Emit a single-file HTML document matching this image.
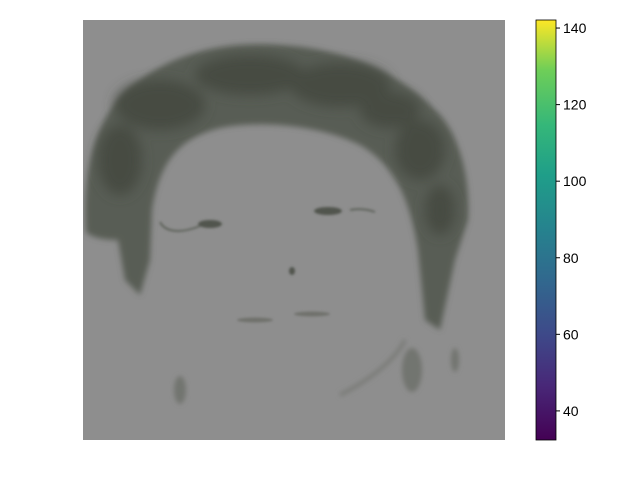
<!DOCTYPE html>
<html><head><meta charset="utf-8"><style>
body{margin:0;background:#fff;}
svg{display:block;font-family:"Liberation Sans",sans-serif;}
</style></head><body>
<svg width="640" height="480" viewBox="0 0 640 480">
<defs>
<filter id="b6"><feGaussianBlur stdDeviation="6"/></filter>
<filter id="b3"><feGaussianBlur stdDeviation="3"/></filter>
<filter id="b1"><feGaussianBlur stdDeviation="1.2"/></filter>
<filter id="b2"><feGaussianBlur stdDeviation="2.5"/></filter>
<linearGradient id="vir" x1="0" y1="1" x2="0" y2="0">
<stop offset="0" stop-color="#440154"/><stop offset="0.13" stop-color="#482878"/>
<stop offset="0.25" stop-color="#3e4989"/><stop offset="0.38" stop-color="#31688e"/>
<stop offset="0.5" stop-color="#26828e"/><stop offset="0.63" stop-color="#1f9e89"/>
<stop offset="0.75" stop-color="#35b779"/><stop offset="0.88" stop-color="#6ece58"/>
<stop offset="1" stop-color="#fde725"/></linearGradient>
<clipPath id="imgclip"><rect x="83" y="20" width="422" height="420"/></clipPath>
</defs>
<g clip-path="url(#imgclip)">
<rect x="83" y="20" width="422" height="420" fill="#8e8e8e"/>
<path filter="url(#b3)" fill="#585d54" d="M86,232 C82,170 95,110 140,80 C180,50 230,42 280,45 C340,48 400,70 440,115 C465,145 470,190 468,220 L455,260 L440,330 L425,320 L418,250 C410,200 395,165 360,145 C320,125 260,120 220,128 C180,138 160,160 152,210 L150,260 L140,295 L125,280 L118,240 C105,240 92,238 86,232 Z"/>
<g filter="url(#b6)" fill="#464c42">
<ellipse cx="160" cy="105" rx="45" ry="25"/><ellipse cx="250" cy="75" rx="55" ry="20"/>
<ellipse cx="340" cy="85" rx="50" ry="22"/><ellipse cx="420" cy="150" rx="25" ry="30"/>
<ellipse cx="120" cy="160" rx="22" ry="35"/><ellipse cx="440" cy="210" rx="15" ry="25"/>
<ellipse cx="390" cy="110" rx="30" ry="18"/>
</g>
<g filter="url(#b1)" fill="#51554e">
<ellipse cx="210" cy="224" rx="12" ry="4"/><ellipse cx="328" cy="211" rx="14" ry="4"/>
<ellipse cx="292" cy="271" rx="3" ry="4"/><ellipse cx="255" cy="320" rx="18" ry="2.5" fill="#6f716c"/>
<ellipse cx="312" cy="314" rx="18" ry="2.5" fill="#6f716c"/>
<path d="M160,222 C165,232 180,234 200,226" stroke="#5f635c" stroke-width="2" fill="none"/>
<path d="M350,210 C360,208 370,210 375,212" stroke="#5f635c" stroke-width="2" fill="none"/>
</g>
<g filter="url(#b2)" fill="#72746f">
<ellipse cx="180" cy="390" rx="6" ry="14"/>
<ellipse cx="412" cy="370" rx="10" ry="22"/><ellipse cx="455" cy="360" rx="4" ry="12"/>
<path d="M340,395 C370,380 395,360 405,340" stroke="#7a7c78" stroke-width="4" fill="none"/>
</g>
</g>
<rect x="536" y="20" width="20" height="420" fill="url(#vir)" stroke="#000" stroke-width="0.8"/>
<g id="ticks" font-size="14" fill="#000"></g>
<script>
const tickValues=[40,60,80,100,120,140];
const cbMin=32.4, cbMax=142.1;
const g=document.getElementById('ticks');
const yOf=v=>440-(v-cbMin)/(cbMax-cbMin)*420;
tickValues.forEach(v=>{
 const y=yOf(v);
 const l=document.createElementNS('http://www.w3.org/2000/svg','line');
 l.setAttribute('x1',556);l.setAttribute('x2',560);l.setAttribute('y1',y);l.setAttribute('y2',y);l.setAttribute('stroke','#000');
 
 
 g.appendChild(l);
 const t=document.createElementNS('http://www.w3.org/2000/svg','text');
 t.setAttribute('x',563);t.setAttribute('y',y+5);t.textContent=v;
 
 
 g.appendChild(t);
});
</script>
</svg>
</body></html>
